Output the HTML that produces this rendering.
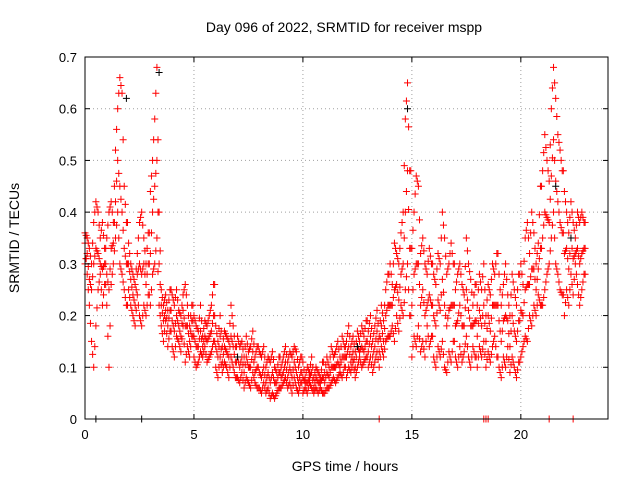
<!DOCTYPE html>
<html><head><meta charset="utf-8"><style>
body{margin:0;background:#fff;}
svg{display:block;font-family:"Liberation Sans",sans-serif;}
</style></head><body>
<svg id="chart" width="640" height="480" viewBox="0 0 640 480">
<rect width="640" height="480" fill="#fff"/>
<g id="grid"></g>
<g id="marks"></g>
<rect x="85" y="57" width="523" height="362" fill="none" stroke="#000" stroke-width="1"/>
<g id="ticks"></g>
<text x="344" y="32" font-size="14" text-anchor="middle">Day 096 of 2022, SRMTID for receiver mspp</text>
<text x="345" y="471" font-size="14" text-anchor="middle">GPS time / hours</text>
<text transform="translate(19,238) rotate(-90)" font-size="14" text-anchor="middle">SRMTID / TECUs</text>
</svg>
<script>
const hours=[0,1,2,3,4,5,6,7,8,9,10,11,12,13,14,15,16,17,18,19,20,21,22];
const hiVals=[
[.36,.35,.33,.30,.38,.42,.40,.35,.38,.33],[.35,.40,.42,.38,.52,.60,.66,.63,.45,.38],
[.34,.30,.28,.26,.32,.38,.40,.35,.30,.36],[.44,.50,.58,.68,.40,.25,.22,.24,.21,.25],
[.24,.22,.25,.21,.20,.24,.26,.22,.18,.22],[.20,.18,.17,.22,.16,.19,.18,.20,.22,.26],
[.18,.15,.20,.14,.17,.16,.15,.22,.18,.14],[.16,.14,.15,.12,.16,.13,.14,.17,.12,.14],
[.13,.12,.14,.10,.12,.11,.13,.10,.09,.12],[.10,.12,.14,.11,.13,.12,.14,.13,.10,.12],
[.11,.08,.10,.09,.12,.08,.10,.09,.08,.11],[.09,.12,.10,.14,.12,.13,.15,.12,.16,.14],
[.15,.18,.14,.16,.13,.17,.15,.18,.16,.19],[.17,.20,.15,.18,.21,.16,.22,.19,.25,.28],
[.30,.26,.34,.32,.30,.36,.40,.58,.65,.48],[.33,.40,.47,.45,.32,.35,.30,.28,.33,.30],
[.28,.26,.32,.30,.40,.35,.28,.30,.34,.30],[.25,.28,.30,.26,.24,.35,.30,.27,.22,.26],
[.22,.28,.25,.30,.20,.26,.24,.30,.28,.32],[.28,.22,.26,.30,.24,.20,.28,.25,.22,.28],
[.30,.26,.35,.38,.32,.40,.36,.30,.34,.45],[.48,.55,.50,.46,.60,.68,.62,.55,.52,.48],
[.44,.40,.36,.42,.38,.35,.40,.38,.40,.38]];
const midVals=[
[.30,.32,.27,.25,.30,.33,.32,.30,.29,.30],[.28,.25,.33,.34,.42,.50,.45,.40,.33,.30],
[.30,.27,.24,.22,.28,.30,.28,.30,.26,.30],[.32,.40,.45,.50,.30,.22,.19,.21,.18,.21],
[.19,.17,.20,.18,.16,.21,.18,.18,.15,.19],[.16,.14,.14,.17,.14,.16,.15,.16,.17,.20],
[.14,.12,.16,.11,.14,.13,.12,.16,.14,.11],[.12,.10,.12,.09,.12,.10,.10,.13,.09,.10],
[.09,.08,.10,.07,.09,.07,.09,.07,.07,.09],[.08,.09,.11,.08,.10,.08,.11,.09,.07,.09],
[.08,.07,.07,.08,.09,.06,.08,.07,.07,.08],[.07,.09,.08,.10,.10,.10,.11,.10,.12,.12],
[.12,.14,.11,.13,.10,.14,.13,.14,.13,.15],[.13,.16,.12,.14,.17,.13,.18,.15,.20,.22],
[.22,.22,.25,.26,.23,.28,.30,.40,.48,.33],[.22,.28,.30,.30,.22,.25,.20,.22,.24,.22],
[.20,.18,.23,.21,.27,.22,.18,.21,.22,.22],[.18,.19,.22,.18,.18,.25,.21,.18,.18,.19],
[.16,.21,.18,.22,.15,.20,.17,.22,.22,.22],[.19,.15,.19,.20,.19,.14,.20,.17,.15,.19],
[.21,.20,.25,.26,.26,.29,.29,.25,.29,.33],[.35,.40,.39,.38,.47,.54,.46,.42,.38,.36],
[.32,.33,.29,.35,.31,.32,.33,.30,.32,.33]];
const loVals=[
[.34,.28,.22,.15,.10,.18,.25,.28,.22,.26],[.22,.10,.26,.30,.35,.40,.30,.28,.25,.22],
[.25,.22,.20,.18,.24,.20,.18,.22,.20,.24],[.22,.28,.30,.35,.22,.18,.15,.19,.14,.17],
[.14,.12,.16,.15,.13,.18,.11,.14,.12,.16],[.12,.10,.11,.13,.12,.14,.11,.12,.13,.15],
[.10,.08,.12,.09,.11,.10,.08,.12,.10,.08],[.08,.07,.09,.06,.08,.07,.06,.09,.07,.06],
[.06,.05,.07,.05,.06,.04,.05,.04,.05,.06],[.06,.07,.08,.06,.07,.05,.08,.06,.05,.07],
[.05,.06,.05,.07,.06,.05,.06,.05,.06,.05],[.05,.06,.06,.07,.08,.07,.08,.09,.08,.10],
[.08,.10,.09,.11,.08,.10,.12,.10,.11,.12],[.10,.12,.09,.11,.13,.10,.14,.12,.15,.16],
[.16,.18,.15,.20,.17,.22,.20,.25,.30,.20],[.12,.16,.14,.18,.13,.15,.12,.18,.14,.16],
[.12,.10,.14,.12,.15,.10,.09,.13,.11,.15],[.12,.10,.14,.11,.13,.16,.12,.10,.14,.12],
[.10,.14,.12,.15,.10,.13,.11,.14,.16,.12],[.10,.08,.12,.10,.14,.09,.12,.10,.08,.11],
[.12,.14,.16,.15,.20,.18,.22,.20,.24,.22],[.22,.25,.28,.30,.35,.40,.30,.28,.25,.24],
[.20,.25,.22,.28,.24,.30,.26,.22,.25,.28]];
const zeroTimes=[13.5,18.3,18.4,18.5,21.3,22.4];
const blackTimes=[0.5,1.9,2.6,3.4,7.0,12.5,14.8,21.6,22.3];
const blackVals=[0,0.62,0,0.67,0.12,0.14,0.60,0.45,0.35];
const xTicks=[0,5,10,15,20];
const yTicks=[0,0.1,0.2,0.3,0.4,0.5,0.6,0.7];

const X0=85,X1=608,Y0=419,Y1=57,XMAX=24,YMAX=0.7;
const xs=t=>X0+(X1-X0)*t/XMAX;
const ys=v=>Y0-(Y0-Y1)*v/YMAX;
const NS="http://www.w3.org/2000/svg";
const grid=document.getElementById('grid'),ticks=document.getElementById('ticks'),marks=document.getElementById('marks');
function mk(tag,attrs,parent){const e=document.createElementNS(NS,tag);for(const k in attrs)e.setAttribute(k,attrs[k]);parent.appendChild(e);return e;}
xTicks.forEach(t=>{
  if(t>0){const g=mk('line',{x1:xs(t),x2:xs(t),y1:Y0,y2:Y1,stroke:'#a0a0a0','stroke-dasharray':'1,3'},grid);
  
  }
  const l=mk('text',{x:xs(t),y:Y0+20,'font-size':13,'text-anchor':'middle'},ticks);l.textContent=t;
  
  
  mk('line',{x1:xs(t),x2:xs(t),y1:Y0,y2:Y0-5,stroke:'#000'},ticks);
  mk('line',{x1:xs(t),x2:xs(t),y1:Y1,y2:Y1+5,stroke:'#000'},ticks);
});
yTicks.forEach(v=>{
  if(v>0&&v<YMAX){const g=mk('line',{x1:X0,x2:X1,y1:ys(v),y2:ys(v),stroke:'#a0a0a0','stroke-dasharray':'1,3'},grid);
  
  }
  const l=mk('text',{x:X0-8,y:ys(v)+5,'font-size':13,'text-anchor':'end'},ticks);l.textContent=v===0?'0':v.toFixed(1);
  
  
  mk('line',{x1:X0,x2:X0+5,y1:ys(v),y2:ys(v),stroke:'#000'},ticks);
  mk('line',{x1:X1,x2:X1-5,y1:ys(v),y2:ys(v),stroke:'#000'},ticks);
});
function plus(t,v,color){
  const x=xs(t),y=ys(v);
  const p=mk('path',{d:`M${x-3.5},${y}H${x+3.5}M${x},${y-3.5}V${y+3.5}`,stroke:color,'stroke-width':1,fill:'none'},marks);
  
  
}
[hiVals,midVals,loVals].forEach(series=>{
  hours.forEach((h,i)=>{series[i].forEach((v,j)=>{
    plus(h+j/10,v,'#ff0000');
    plus(h+j/10+0.05,(v+series[i][Math.min(j+1,9)])/2,'#ff0000');
  });});
});
blackTimes.forEach((t,i)=>plus(t,blackVals[i],'#000'));
zeroTimes.forEach(t=>plus(t,0,'#ff0000'));
</script>
</body></html>
